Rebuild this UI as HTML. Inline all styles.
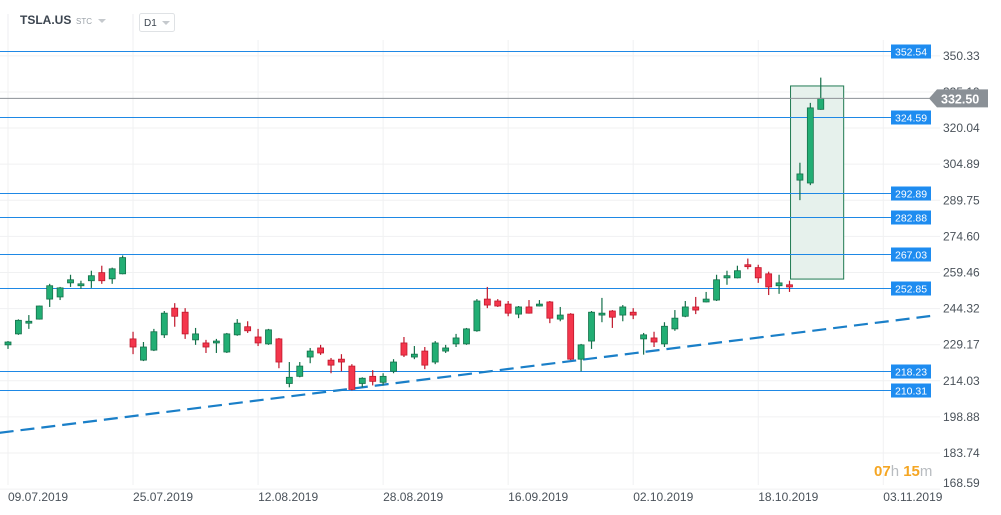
<!DOCTYPE html>
<html><head><meta charset="utf-8">
<style>
body{margin:0;background:#fff;font-family:"Liberation Sans",sans-serif;}
#wrap{position:relative;width:1001px;height:515px;overflow:hidden;}
svg{position:absolute;left:0;top:0;}
</style></head>
<body>
<div id="wrap">
<svg id="chart" width="1001" height="515"></svg>
</div>
<script>
const opens=[229.1,233.7,238.2,239.9,248.3,249.2,255.1,253.9,256.0,259.4,256.8,258.9,231.6,222.7,226.9,233.3,244.5,242.8,231.2,229.9,229.9,226.1,233.3,236.7,232.4,229.5,231.6,212.9,215.9,224.0,227.8,222.7,223.1,220.2,212.9,215.9,213.4,218.0,229.9,224.0,226.5,221.9,226.5,229.5,229.5,235.0,248.3,247.5,246.2,242.0,245.0,245.4,247.1,239.9,242.0,223.1,230.7,241.6,243.3,241.6,242.8,231.6,232.0,229.5,235.8,241.1,245.0,247.1,247.9,257.2,257.2,262.7,261.5,258.9,253.9,254.3,298.2,297.0,327.9];
const highs=[230.7,239.8,241.6,245.6,254.7,253.4,258.5,256.0,260.2,262.3,261.5,266.6,234.6,230.3,235.8,243.3,246.6,244.5,236.2,231.2,231.6,234.1,239.9,239.0,235.8,235.8,232.0,221.9,221.9,227.8,229.1,223.6,225.2,221.0,215.5,218.5,217.2,223.1,232.4,228.6,228.2,230.7,229.1,233.7,236.2,248.3,253.4,248.3,247.5,245.4,247.9,247.9,247.5,245.0,242.4,229.5,243.3,248.8,243.7,245.8,244.5,234.1,234.6,238.6,243.7,247.5,249.2,251.3,258.5,260.2,262.3,265.3,262.7,259.8,258.5,256.0,305.5,330.6,341.2];
const lows=[227.4,233.3,235.8,239.7,245.0,247.9,253.4,252.6,253.0,254.7,254.7,258.7,225.2,222.3,226.5,232.0,236.7,231.6,229.1,225.7,225.7,225.7,232.9,234.1,228.6,229.1,219.3,211.3,215.5,221.4,224.9,217.2,218.0,210.0,211.3,212.1,212.1,217.2,224.0,223.1,218.9,221.0,225.7,228.2,229.1,234.6,244.5,245.0,241.1,240.3,242.2,245.2,238.2,239.0,222.7,218.0,227.4,238.6,236.2,239.0,239.9,225.0,228.2,228.2,235.0,240.7,242.0,246.9,247.5,254.3,257.0,260.8,255.1,250.0,250.5,251.3,289.8,296.1,327.7];
const closes=[230.3,239.4,239.0,245.4,253.9,253.0,256.4,254.7,258.1,256.0,261.0,265.7,228.2,228.2,234.6,242.4,241.1,233.7,233.7,228.2,230.7,233.7,238.2,235.0,229.9,235.4,221.9,215.5,220.2,226.5,225.7,220.6,221.9,210.4,215.1,213.8,215.9,221.9,224.8,225.2,220.6,229.9,227.8,232.0,235.8,247.5,245.8,245.4,242.4,245.0,242.4,246.2,240.3,241.6,223.1,229.1,242.8,242.4,240.7,245.0,241.6,233.3,230.3,236.9,240.3,245.0,243.7,248.3,256.4,258.1,260.2,261.9,257.2,253.4,255.1,253.4,300.8,328.5,332.5];
const yTicks=[350.33,335.19,320.04,304.89,289.75,274.60,259.46,244.32,229.17,214.03,198.88,183.74,168.59];
const dateLabels=["09.07.2019","25.07.2019","12.08.2019","28.08.2019","16.09.2019","02.10.2019","18.10.2019","03.11.2019"];
const dateIndex=[0,12,24,36,48,60,72,84];
const levels=[352.54,324.59,292.89,282.88,267.03,252.85,218.23,210.31];
const lastPrice=[332.50];
const trendIdx=[-0.8,88.5];
const trendPrice=[192.2,241.2];
const boxIdx=[75.1,80.2];
const boxPrice=[337.7,256.7];

const svg=document.getElementById('chart');
const NS='http://www.w3.org/2000/svg';
function X(i){return 8+i*10.42;}
function Y(p){return 453-(p-183.74)*2.384;}
function mk(tag,attrs,parent){const e=document.createElementNS(NS,tag);for(const k in attrs)e.setAttribute(k,attrs[k]);(parent||svg).appendChild(e);return e;}

// header
const hdr=mk('g',{});


let t=mk('text',{x:20,y:24,'font-size':12,'font-weight':'bold',fill:'#3c4550'},hdr);t.textContent='TSLA.US';


t=mk('text',{x:76,y:24,'font-size':8,fill:'#9aa1a8'},hdr);t.textContent='STC';


mk('path',{d:'M98 19 L106 19 L102 23 Z',fill:'#c5c9cd'},hdr);
mk('line',{x1:8,y1:14,x2:8,y2:40,stroke:'#eceef0'},hdr);
mk('line',{x1:133,y1:14,x2:133,y2:40,stroke:'#eceef0'},hdr);
const tf=mk('rect',{x:139.5,y:13.5,width:35,height:18,rx:2,fill:'#fff',stroke:'#dfe2e5'},hdr);


t=mk('text',{x:144,y:26,'font-size':10,fill:'#3c4550'},hdr);t.textContent='D1';
mk('path',{d:'M162 21 L170 21 L166 25 Z',fill:'#c5c9cd'},hdr);

// grid
const grid=mk('g',{});


yTicks.forEach(p=>{mk('line',{x1:0,x2:940,y1:Y(p),y2:Y(p),stroke:'#f0f1f2'},grid);});
dateIndex.forEach(i=>{mk('line',{x1:X(i),x2:X(i),y1:40,y2:485,stroke:'#f0f1f2'},grid);});

// y labels
yTicks.forEach(p=>{const e=mk('text',{x:943,y:Math.min(Y(p)+4,487),'font-size':12,fill:'#4a525a'});e.textContent=p.toFixed(2);

});
// x labels
dateLabels.forEach((d,k)=>{const e=mk('text',{x:X(dateIndex[k]),y:501,'font-size':12,fill:'#4a525a'});e.textContent=d;

});

// box
const bx=mk('rect',{x:X(boxIdx[0]),y:Y(boxPrice[0]),width:X(boxIdx[1])-X(boxIdx[0]),height:Y(boxPrice[1])-Y(boxPrice[0]),fill:'#e6f1ec',stroke:'#1f7a52','stroke-width':1});



// levels
levels.forEach(p=>{const y=Math.round(Y(p))+0.5;
const l=mk('line',{x1:0,x2:891,y1:y,y2:y,stroke:'#1e88e5','stroke-width':1});


const r=mk('rect',{x:891,y:y-7,width:40,height:14,fill:'#1e8cf0'});


const e=mk('text',{x:895,y:y+4,'font-size':10.5,fill:'#fff'});e.textContent=p.toFixed(2);

});

// trend line
const tl=mk('line',{x1:X(trendIdx[0]),y1:Y(trendPrice[0]),x2:X(trendIdx[1]),y2:Y(trendPrice[1]),stroke:'#1a7fc8','stroke-width':2.2,'stroke-dasharray':'14,7'});



// candles
opens.forEach((o,i)=>{const c=closes[i],up=c>=o,x=X(i);
const col=up?'#22ae74':'#f4364c',st=up?'#15704a':'#c0182c';
const g=mk('g',{});


mk('line',{x1:x,x2:x,y1:Y(highs[i]),y2:Y(lows[i]),stroke:st,'stroke-width':1.2},g);
const top=Y(Math.max(o,c)),bot=Y(Math.min(o,c));
mk('rect',{x:x-3,y:top,width:6,height:Math.max(1.5,bot-top),fill:col,stroke:st,'stroke-width':0.8},g);});

// last price
const ly=Y(lastPrice[0]);
const lp=mk('line',{x1:0,x2:932,y1:ly,y2:ly,stroke:'#8c9196','stroke-width':1});


const tag=mk('path',{d:`M929 ${ly} L937 ${ly-9} L988 ${ly-9} L988 ${ly+9} L937 ${ly+9} Z`,fill:'#8a9096'});


t=mk('text',{x:941,y:ly+5,'font-size':12.5,'font-weight':'bold',fill:'#fff'});t.textContent=lastPrice[0].toFixed(2);



// countdown
const cd=mk('text',{x:874,y:476,'font-size':15});


cd.innerHTML='<tspan fill="#f5a623" font-weight="bold">07</tspan><tspan fill="#b8bcc0">h </tspan><tspan fill="#f5a623" font-weight="bold">15</tspan><tspan fill="#b8bcc0">m</tspan>';
</script>
</body></html>
